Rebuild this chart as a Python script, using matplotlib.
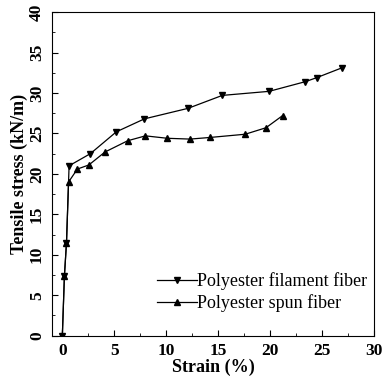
import matplotlib
matplotlib.use("Agg")
import matplotlib.pyplot as plt
from matplotlib.ticker import MultipleLocator

# Polyester filament fiber (down triangles)
fil_strain = [0, 0.2, 0.4, 0.65, 2.7, 5.2, 7.9, 12.1, 15.4, 19.9, 23.4, 24.5, 26.9]
fil_stress = [0, 7.4, 11.5, 21.0, 22.5, 25.2, 26.8, 28.1, 29.7, 30.2, 31.4, 31.9, 33.1]

# Polyester spun fiber (up triangles)
spun_strain = [0, 0.2, 0.4, 0.6, 1.45, 2.55, 4.1, 6.3, 8.0, 10.1, 12.3, 14.2, 17.6, 19.6, 21.2]
spun_stress = [0, 7.4, 11.5, 19.0, 20.6, 21.1, 22.7, 24.1, 24.7, 24.4, 24.3, 24.5, 24.9, 25.7, 27.2]

plt.rcParams['font.family'] = ['Liberation Serif', 'DejaVu Serif']

fig = plt.figure(figsize=(3.82, 3.83), dpi=100)
ax = fig.add_axes([0.136, 0.1235, 0.843, 0.845])

ax.plot(fil_strain, fil_stress, color='black', lw=0.9, marker='v', ms=5,
        label='Polyester filament fiber')
ax.plot(spun_strain, spun_stress, color='black', lw=0.9, marker='^', ms=5,
        label='Polyester spun fiber')

ax.set_xlim(-1, 30)
ax.set_ylim(0, 40)
ax.xaxis.set_major_locator(MultipleLocator(5))
ax.xaxis.set_minor_locator(MultipleLocator(2.5))
ax.yaxis.set_major_locator(MultipleLocator(5))
ax.yaxis.set_minor_locator(MultipleLocator(2.5))
ax.tick_params(which='both', direction='in', top=False, right=False)
ax.tick_params(which='major', length=4, labelsize=12.5, pad=5)
ax.tick_params(which='minor', length=2.5)
for lab in ax.get_xticklabels() + ax.get_yticklabels():
    lab.set_fontweight('bold')
for lab in ax.get_yticklabels():
    lab.set_rotation(90)
    lab.set_va('center')

ax.set_xlabel('Strain (%)', fontsize=13, fontweight='bold', labelpad=0)
ax.set_ylabel('Tensile stress (kN/m)', fontsize=13, fontweight='bold', labelpad=1)

ax.legend(loc='lower right', bbox_to_anchor=(1.012, 0.04), frameon=False,
          fontsize=13, handlelength=2.2, handletextpad=0.0, labelspacing=0.2,
          borderaxespad=0.2)

fig.savefig('out.png', dpi=100)
